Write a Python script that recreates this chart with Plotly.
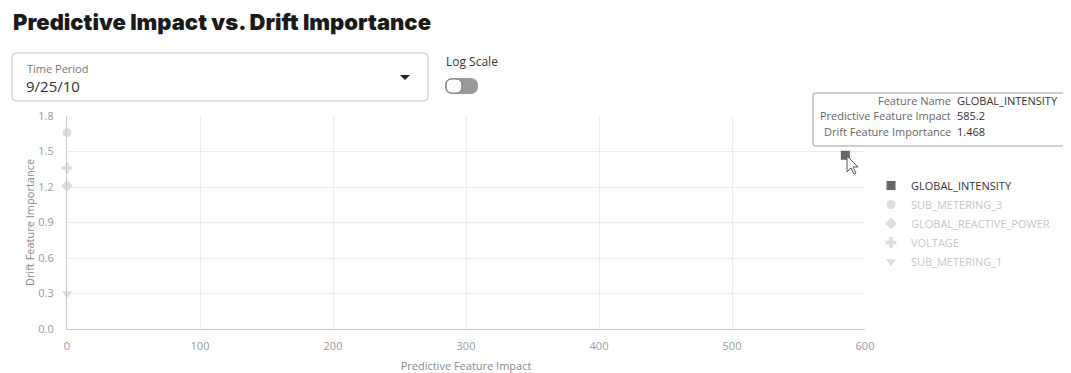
import plotly.graph_objects as go

# ---- data ----
features = ["GLOBAL_INTENSITY", "SUB_METERING_3", "GLOBAL_REACTIVE_POWER", "VOLTAGE", "SUB_METERING_1"]
impact = [585.2, 0.0, 0.0, 0.0, 0.0]
drift = [1.468, 1.66, 1.21, 1.36, 0.30]
symbols = ["square", "circle", "diamond", "cross", "triangle-down"]
highlighted = [True, False, False, False, False]

tooltip_labels = ["Feature Name", "Predictive Feature Impact", "Drift Feature Importance"]
tooltip_values = ["GLOBAL_INTENSITY", "585.2", "1.468"]

# screen layout (page has an 8px body margin)
O = 8
SW, SH = 1071, 373
FW, FH = SW - O, SH - O
L, R, T, B = 67, 865, 116, 329   # plot area in screen pixels


def px(x):
    return (x - L) / (R - L)


def py(y):
    return (B - y) / (B - T)


FONT = "Open Sans"
fig = go.Figure()
for f, xv, yv, s, hl in zip(features, impact, drift, symbols, highlighted):
    col = "#666666" if hl else "#dddddd"
    tcol = "#333333" if hl else "#c8c8c8"
    fig.add_trace(go.Scatter(
        x=[xv], y=[yv], mode="markers", cliponaxis=False,
        name=f"<span style='color:{tcol}'>{f}</span>",
        marker=dict(symbol=s, size=9, color=col, line=dict(width=0)),
    ))

fig.update_layout(
    width=FW, height=FH,
    margin=dict(l=L - O, r=FW - (R - O), t=T - O, b=FH - (B - O), pad=0, autoexpand=False),
    paper_bgcolor="white", plot_bgcolor="white",
    font=dict(family=FONT, size=11, color="#999999"),
    showlegend=True,
    legend=dict(x=px(871), y=py(171), xanchor="left", yanchor="top",
                font=dict(size=11, family=FONT), itemsizing="trace", itemwidth=30,
                tracegroupgap=0, bgcolor="rgba(0,0,0,0)"),
    xaxis=dict(range=[0, 600], dtick=100, showgrid=True, gridcolor="#ececec",
               zeroline=False, showline=True, linecolor="#c8c8c8", automargin=False,
               tickfont=dict(size=11, color="#9a9a9a"), ticklabelstandoff=7,
               title=dict(text="Predictive Feature Impact", font=dict(size=11, color="#888888"), standoff=14)),
    yaxis=dict(range=[0, 1.8], dtick=0.3, tickformat=".1f", showgrid=True, gridcolor="#ececec",
               zeroline=False, showline=True, linecolor="#c8c8c8", automargin=False,
               tickfont=dict(size=11, color="#9a9a9a"), ticklabelstandoff=10,
               title=dict(text="Drift Feature Importance", font=dict(size=11, color="#888888"), standoff=1)),
)

# Title
fig.add_annotation(text="Predictive Impact vs. Drift Importance", xref="paper", yref="paper",
                   x=px(11), y=py(22), xanchor="left", yanchor="middle", showarrow=False,
                   font=dict(family="Inter", size=22, color="#1a1a1a", weight=900))

# Dropdown box
fig.add_shape(type="path", xref="paper", yref="paper",
              path=(f"M {px(16)},{py(53)} L {px(424)},{py(53)} Q {px(428)},{py(53)} {px(428)},{py(57)} "
                    f"L {px(428)},{py(97)} Q {px(428)},{py(101)} {px(424)},{py(101)} "
                    f"L {px(16)},{py(101)} Q {px(12)},{py(101)} {px(12)},{py(97)} "
                    f"L {px(12)},{py(57)} Q {px(12)},{py(53)} {px(16)},{py(53)} Z"),
              line=dict(color="#c4c4c4", width=1), fillcolor="white")
fig.add_annotation(text="Time Period", xref="paper", yref="paper", x=px(25), y=py(69),
                   xanchor="left", yanchor="middle", showarrow=False,
                   font=dict(family=FONT, size=11, color="#777777"))
fig.add_annotation(text="9/25/10", xref="paper", yref="paper", x=px(24), y=py(86),
                   xanchor="left", yanchor="middle", showarrow=False,
                   font=dict(family=FONT, size=15, color="#333333"))
fig.add_shape(type="path", xref="paper", yref="paper",
              path=f"M {px(400)},{py(75)} L {px(410)},{py(75)} L {px(405)},{py(80)} Z",
              line=dict(width=0), fillcolor="#222222")

# Log scale toggle
fig.add_annotation(text="Log Scale", xref="paper", yref="paper", x=px(444), y=py(61),
                   xanchor="left", yanchor="middle", showarrow=False,
                   font=dict(family=FONT, size=12, color="#333333"))
fig.add_shape(type="path", xref="paper", yref="paper",
              path=(f"M {px(453)},{py(78)} L {px(470)},{py(78)} Q {px(478)},{py(78)} {px(478)},{py(86)} "
                    f"Q {px(478)},{py(94)} {px(470)},{py(94)} L {px(453)},{py(94)} "
                    f"Q {px(445)},{py(94)} {px(445)},{py(86)} Q {px(445)},{py(78)} {px(453)},{py(78)} Z"),
              line=dict(width=0), fillcolor="#9a9a9a")
fig.add_shape(type="path", xref="paper", yref="paper",
              path=(f"M {px(452)},{py(79)} L {px(456)},{py(79)} Q {px(462)},{py(79)} {px(462)},{py(86)} "
                    f"Q {px(462)},{py(93)} {px(456)},{py(93)} L {px(452)},{py(93)} "
                    f"Q {px(446)},{py(93)} {px(446)},{py(86)} Q {px(446)},{py(79)} {px(452)},{py(79)} Z"),
              line=dict(color="#7a7a7a", width=1), fillcolor="white")

# Tooltip
fig.add_shape(type="path", xref="paper", yref="paper",
              path=(f"M {px(815)},{py(93)} L {px(1063)},{py(93)} Q {px(1065)},{py(93)} {px(1065)},{py(95)} "
                    f"L {px(1065)},{py(144)} Q {px(1065)},{py(146)} {px(1063)},{py(146)} "
                    f"L {px(815)},{py(146)} Q {px(813)},{py(146)} {px(813)},{py(144)} "
                    f"L {px(813)},{py(95)} Q {px(813)},{py(93)} {px(815)},{py(93)} Z"),
              line=dict(color="#a0a0a0", width=1), fillcolor="white")
for i, (lab, val) in enumerate(zip(tooltip_labels, tooltip_values)):
    yy = py(100 + 15.5 * i)
    fig.add_annotation(text=lab, xref="paper", yref="paper", x=px(953), y=yy,
                       xanchor="right", yanchor="middle", showarrow=False,
                       font=dict(family=FONT, size=11, color="#666666"))
    fig.add_annotation(text=val, xref="paper", yref="paper", x=px(955), y=yy,
                       xanchor="left", yanchor="middle", showarrow=False,
                       font=dict(family=FONT, size=11, color="#333333"))

# mouse cursor
cx, cy = 847, 156
pts = [(0, 0), (0, 16), (4, 12), (7, 18), (9, 17), (6, 11), (11, 11)]
cpath = "M " + " L ".join(f"{px(cx + a)},{py(cy + b)}" for a, b in pts) + " Z"
fig.add_shape(type="path", xref="paper", yref="paper", path=cpath,
              line=dict(color="#555555", width=1), fillcolor="white")

# right page border
fig.add_shape(type="line", xref="paper", yref="paper", x0=px(1068), x1=px(1068), y0=py(9), y1=py(373),
              line=dict(color="#e6e6e6", width=1))

fig.write_html("out.html")
